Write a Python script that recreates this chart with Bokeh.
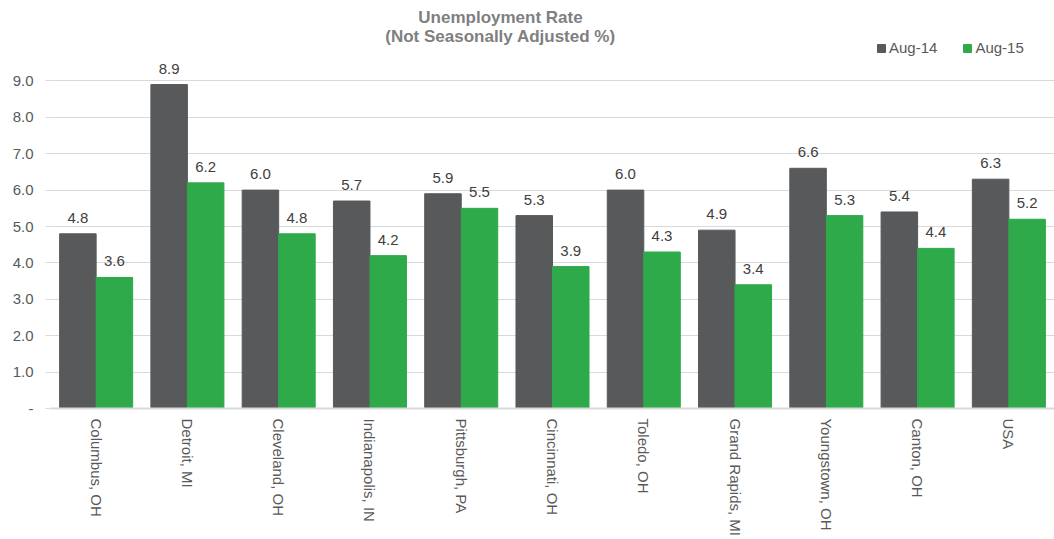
import math
from bokeh.plotting import figure
from bokeh.models import (ColumnDataSource, FactorRange, Range1d, FixedTicker,
                          PrintfTickFormatter, LabelSet, Label)
from bokeh.core.properties import value
from bokeh.transform import dodge
from bokeh.embed import file_html
from bokeh.resources import INLINE

cities = ["Columbus, OH", "Detroit, MI", "Cleveland, OH", "Indianapolis, IN",
          "Pittsburgh, PA", "Cincinnati, OH", "Toledo, OH", "Grand Rapids, MI",
          "Youngstown, OH", "Canton, OH", "USA"]
aug14 = [4.8, 8.9, 6.0, 5.7, 5.9, 5.3, 6.0, 4.9, 6.6, 5.4, 6.3]
aug15 = [3.6, 6.2, 4.8, 4.2, 5.5, 3.9, 4.3, 3.4, 5.3, 4.4, 5.2]
series_names = ["Aug-14", "Aug-15"]
y_ticks = [0, 1, 2, 3, 4, 5, 6, 7, 8, 9]
title_lines = ["Unemployment Rate", "(Not Seasonally Adjusted %)"]

FONT = "Liberation Sans"
GRAY = "#58595b"
GREEN = "#2eaa4a"
AXIS_TEXT = "#595959"

src = ColumnDataSource(dict(
    city=cities,
    a14=aug14,
    a15=aug15,
    t14=["%.1f" % v for v in aug14],
    t15=["%.1f" % v for v in aug15],
))

p = figure(width=1054, height=539, title=None,
           x_range=FactorRange(*cities, range_padding=0),
           y_range=Range1d(0, 11.1),
           output_backend="svg", toolbar_location=None,
           min_border_left=50, min_border_right=0,
           min_border_top=4, min_border_bottom=0)
p.outline_line_color = None
p.background_fill_color = "white"

r1 = p.vbar(x=dodge("city", -0.2, range=p.x_range), top="a14", width=0.4,
            source=src, color=GRAY, legend_label=series_names[0])
r2 = p.vbar(x=dodge("city", 0.2, range=p.x_range), top="a15", width=0.4,
            source=src, color=GREEN, legend_label=series_names[1])

for col, txt, off in (("a14", "t14", -0.2), ("a15", "t15", 0.2)):
    p.add_layout(LabelSet(x=dodge("city", off, range=p.x_range), y=col, text=txt,
                          source=src, y_offset=11, text_align="center",
                          text_baseline="bottom", text_font=value(FONT),
                          text_font_size="15px", text_color="#404040"))

# axes
p.xgrid.grid_line_color = None
p.ygrid.grid_line_color = "#d9d9d9"
p.ygrid.grid_line_width = 1
p.yaxis.ticker = FixedTicker(ticks=y_ticks)
p.yaxis.formatter = PrintfTickFormatter(format="%.1f")
p.yaxis.major_label_overrides = {0: "-"}
p.yaxis.axis_line_color = None
p.yaxis.major_tick_in = 0
p.yaxis.major_tick_out = 5
p.yaxis.major_tick_line_color = "#d9d9d9"
p.yaxis.minor_tick_line_color = None
p.yaxis.major_label_standoff = 12
p.yaxis.major_label_text_font = FONT
p.yaxis.major_label_text_font_size = "15px"
p.yaxis.major_label_text_color = AXIS_TEXT

p.xaxis.axis_line_color = "#d9d9d9"
p.xaxis.axis_line_width = 2
p.xaxis.major_tick_line_color = None
p.xaxis.major_tick_in = 0
p.xaxis.major_tick_out = 0
p.xaxis.major_label_standoff = 10
p.xaxis.major_label_orientation = -math.pi / 2
p.xaxis.major_label_text_font = FONT
p.xaxis.major_label_text_font_size = "15px"
p.xaxis.major_label_text_color = AXIS_TEXT

# title lines inside the frame (screen units relative to frame)
for txt, sy in zip(title_lines, (391, 372)):
    p.add_layout(Label(x=450, y=sy, x_units="screen", y_units="screen", text=txt,
                       text_align="center", text_baseline="middle",
                       text_font=FONT, text_font_size="17px",
                       text_font_style="bold", text_color="#7f7f7f"))

lg = p.legend[0]
lg.location = (826, 352)
lg.orientation = "horizontal"
lg.glyph_width = 10
lg.glyph_height = 10
lg.label_height = 16
lg.label_standoff = 3
lg.spacing = 25
lg.padding = 0
lg.margin = 0
lg.border_line_color = None
lg.background_fill_alpha = 0
lg.label_text_font = FONT
lg.label_text_font_size = "15px"
lg.label_text_color = AXIS_TEXT

open("out.html", "w").write(file_html(p, INLINE))
